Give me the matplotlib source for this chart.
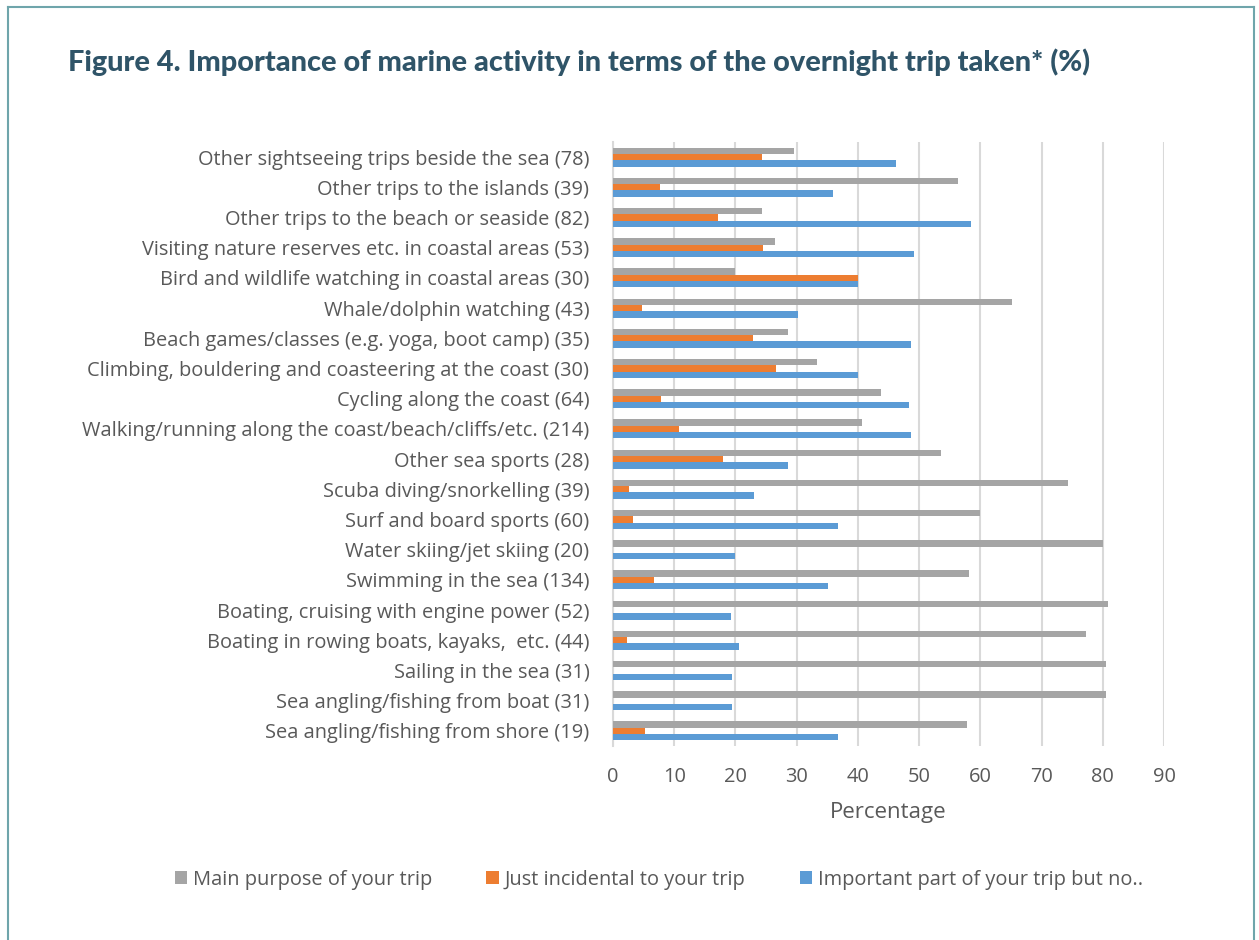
import matplotlib
matplotlib.use("Agg")
import matplotlib.pyplot as plt
from matplotlib.patches import Patch
from matplotlib.lines import Line2D
import numpy as np

categories = [
    "Other sightseeing trips beside the sea (78)",
    "Other trips to the islands (39)",
    "Other trips to the beach or seaside (82)",
    "Visiting nature reserves etc. in coastal areas (53)",
    "Bird and wildlife watching in coastal areas (30)",
    "Whale/dolphin watching (43)",
    "Beach games/classes (e.g. yoga, boot camp) (35)",
    "Climbing, bouldering and coasteering at the coast (30)",
    "Cycling along the coast (64)",
    "Walking/running along the coast/beach/cliffs/etc. (214)",
    "Other sea sports (28)",
    "Scuba diving/snorkelling (39)",
    "Surf and board sports (60)",
    "Water skiing/jet skiing (20)",
    "Swimming in the sea (134)",
    "Boating, cruising with engine power (52)",
    "Boating in rowing boats, kayaks,  etc. (44)",
    "Sailing in the sea (31)",
    "Sea angling/fishing from boat (31)",
    "Sea angling/fishing from shore (19)",
]

main_purpose = [29.5, 56.4, 24.4, 26.4, 20.0, 65.1, 28.6, 33.3, 43.8, 40.7,
                53.6, 74.4, 60.0, 80.0, 58.2, 80.8, 77.3, 80.6, 80.6, 57.9]
just_incidental = [24.4, 7.7, 17.1, 24.5, 40.0, 4.7, 22.9, 26.7, 7.8, 10.7,
                   17.9, 2.6, 3.3, 0.0, 6.7, 0.0, 2.3, 0.0, 0.0, 5.3]
important_part = [46.2, 35.9, 58.5, 49.1, 40.0, 30.2, 48.6, 40.0, 48.4, 48.6,
                  28.6, 23.1, 36.7, 20.0, 35.1, 19.2, 20.5, 19.4, 19.4, 36.8]

series_names = ["Main purpose of your trip", "Just incidental to your trip",
                "Important part of your trip but no.."]
series_colors = ["#a5a5a5", "#ed7d31", "#5b9bd5"]
x_ticks = [0, 10, 20, 30, 40, 50, 60, 70, 80, 90]

text_color = "#595959"
plt.rcParams["font.family"] = ["Open Sans", "DejaVu Sans"]

fig = plt.figure(figsize=(12.59, 9.40), dpi=100)
ax = fig.add_axes([613 / 1259, 1 - 746 / 940, (1164 - 613) / 1259, (746 - 142) / 940])

y = np.arange(len(categories))
h = 0.21
for k, vals in enumerate([main_purpose, just_incidental, important_part]):
    ax.barh(y + (k - 1) * h, vals, height=h, color=series_colors[k], zorder=3)

ax.set_ylim(len(categories) - 0.5, -0.5)
ax.set_xlim(0, 90)
ax.set_xticks(x_ticks)
ax.set_yticks(y)
ax.set_yticklabels(categories)
ax.tick_params(axis="y", length=0, pad=17, labelsize=14.4, labelcolor=text_color)
ax.tick_params(axis="x", length=0, pad=15, labelsize=14.4, labelcolor=text_color)
ax.grid(axis="x", color="#d9d9d9", linewidth=1.5, zorder=0)
for s in ["top", "right", "bottom"]:
    ax.spines[s].set_visible(False)
ax.spines["left"].set_color("#d9d9d9")
ax.spines["left"].set_linewidth(1.5)
ax.set_xlabel("Percentage", fontsize=16, color=text_color, labelpad=11)

fig.text(68 / 1259, 1 - 62 / 940, "Figure 4. Importance of marine activity in terms of the overnight trip taken* (%)",
         fontsize=20.8, fontweight="black", color="#2f5468", va="center", ha="left",
         family=["Lato", "DejaVu Sans"])

handles = [Patch(facecolor=c, edgecolor="none") for c in series_colors]
fig.legend(handles, series_names, loc="center", bbox_to_anchor=(659 / 1259, 1 - 880 / 940),
           ncol=3, frameon=False, fontsize=14.4, labelcolor=text_color,
           handlelength=0.62, handleheight=0.62, handletextpad=0.3, columnspacing=2.7)

border = "#6fa5ab"
fig.add_artist(Line2D([7.5 / 1259, 7.5 / 1259], [0, 1 - 6.5 / 940], color=border, lw=1.5,
                      transform=fig.transFigure))
fig.add_artist(Line2D([7.5 / 1259, 1254 / 1259], [1 - 6.5 / 940, 1 - 6.5 / 940], color=border, lw=1.5,
                      transform=fig.transFigure))
fig.add_artist(Line2D([1254 / 1259, 1254 / 1259], [0, 1 - 6.5 / 940], color=border, lw=1.5,
                      transform=fig.transFigure))

fig.savefig("out.png", dpi=100)
